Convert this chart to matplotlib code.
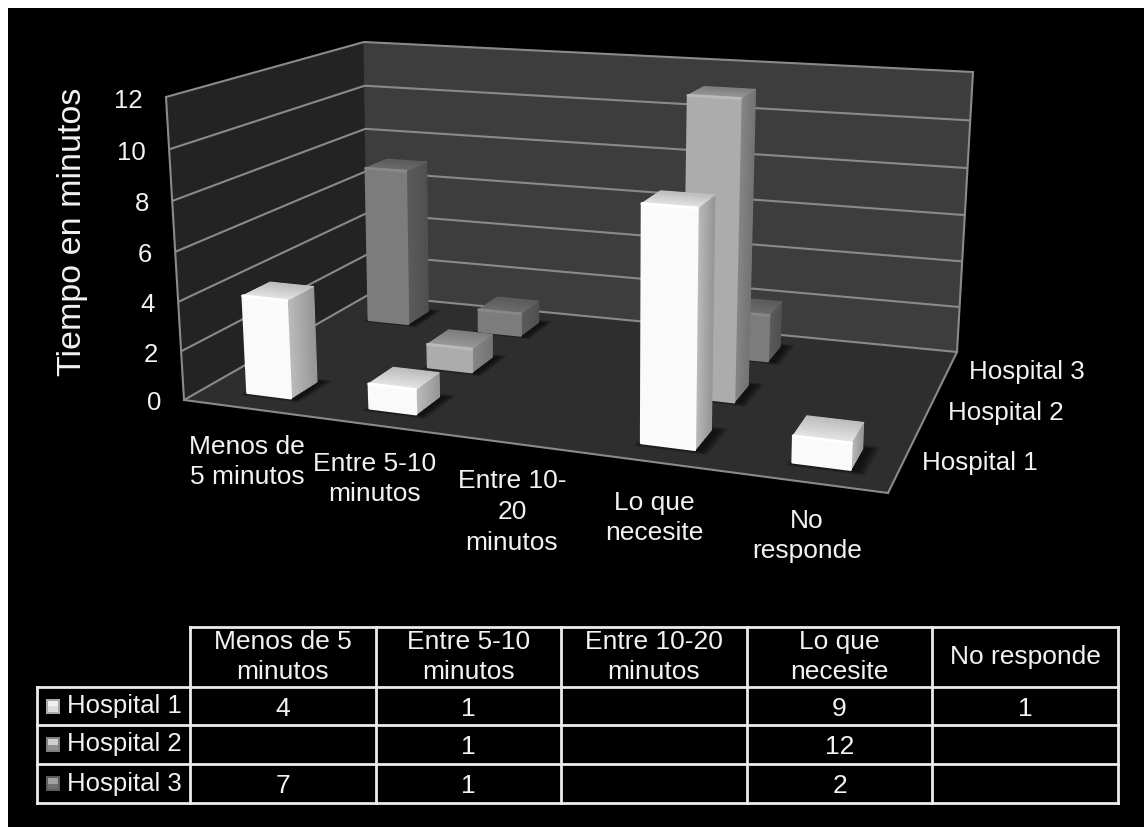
import numpy as np
import matplotlib
matplotlib.use("Agg")
import matplotlib.pyplot as plt
from matplotlib.patches import Polygon, Rectangle

plt.rcParams['font.family'] = ['Liberation Sans', 'DejaVu Sans']

# Chart data
categories = ["Menos de\n5 minutos", "Entre 5-10\nminutos", "Entre 10-\n20\nminutos",
              "Lo que\nnecesite", "No\nresponde"]
table_headers = ["Menos de 5\nminutos", "Entre 5-10\nminutos", "Entre 10-20\nminutos",
                 "Lo que\nnecesite", "No responde"]
series_names = ["Hospital 1", "Hospital 2", "Hospital 3"]
hospital_1 = [4, 1, None, 9, 1]
hospital_2 = [None, 1, None, 12, None]
hospital_3 = [7, 1, None, 2, None]
y_ticks = [0, 2, 4, 6, 8, 10, 12]
y_title = "Tiempo en minutos"

series_values = [hospital_1, hospital_2, hospital_3]
n_cat, n_ser, y_max = len(categories), len(series_names), y_ticks[-1]

# Box corners on the canvas: floor plane and the plane at the top of the value axis
floor_corners = [(184, 400), (888, 493), (957, 352), (368, 295)]
top_corners = [(166, 97), (901, 147), (973, 72), (364, 42)]
DEPTH_FALLOFF = 0.045


def homography(src, dst):
    rows, rhs = [], []
    for (u, v), (x, y) in zip(src, dst):
        rows.append([u, v, 1, 0, 0, 0, -u * x, -v * x]); rhs.append(x)
        rows.append([0, 0, 0, u, v, 1, -u * y, -v * y]); rhs.append(y)
    h = np.linalg.solve(np.array(rows, float), np.array(rhs, float))
    return np.append(h, 1).reshape(3, 3)


unit_square = [(0, 0), (n_cat, 0), (n_cat, n_ser), (0, n_ser)]
H_floor = homography(unit_square, floor_corners)
H_top = homography(unit_square, top_corners)


def apply(h, u, v):
    p = h @ np.array([u, v, 1.0])
    return p[:2] / p[2]


def project(u, v, w=0.0):
    t = w / y_max
    g = t / (1 + DEPTH_FALLOFF * (1 - t))
    a, b = apply(H_floor, u, v), apply(H_top, u, v)
    return tuple(a + (b - a) * g)


def shade(c0, c1, t):
    return tuple((a + (b - a) * t) / 255 for a, b in zip(c0, c1))


fig = plt.figure(figsize=(11.44, 8.27), dpi=100, facecolor="white")
ax = fig.add_axes([0, 0, 1, 1])
ax.set_xlim(0, 1144)
ax.set_ylim(827, 0)
ax.axis("off")
ax.add_patch(Rectangle((8, 8), 1136, 819, fc="black", ec="none", zorder=0))


def poly(pts, color, z=2, lw=0.8):
    ax.add_patch(Polygon(pts, closed=True, fc=color, ec=color, lw=lw, joinstyle="round", zorder=z))


# Walls and floor
poly([project(0, 0), project(0, n_ser), project(0, n_ser, y_max), project(0, 0, y_max)], "#232323", 1)
poly([project(0, n_ser), project(n_cat, n_ser), project(n_cat, n_ser, y_max), project(0, n_ser, y_max)], "#3d3d3d", 1)
poly([project(0, 0), project(n_cat, 0), project(n_cat, n_ser), project(0, n_ser)], "#2e2e2e", 1)

grid_color = "#8a8a8a"
for t in y_ticks:
    line = [project(0, 0, t), project(0, n_ser, t), project(n_cat, n_ser, t)]
    ax.plot(*zip(*line), color=grid_color, lw=1.5, zorder=1.5, solid_capstyle="butt")
for a, b in [((0, 0), (0, 0, y_max)), ((n_cat, n_ser), (n_cat, n_ser, y_max)),
             ((0, 0), (n_cat, 0)), ((n_cat, 0), (n_cat, n_ser))]:
    ax.plot(*zip(project(*a), project(*b)), color=grid_color, lw=1.5, zorder=1.5)

# Colours per series: front, side (near/far), top (near/far)
palette = [
    dict(front=(250, 250, 250), edge=(255, 255, 255), side=((190, 190, 190), (150, 150, 150)),
         top=((232, 232, 232), (190, 190, 190))),
    dict(front=(172, 172, 172), edge=(186, 186, 186), side=((136, 136, 136), (116, 116, 116)),
         top=((156, 156, 156), (126, 126, 126))),
    dict(front=(124, 124, 124), edge=(136, 136, 136), side=((92, 92, 92), (80, 80, 80)),
         top=((110, 110, 110), (92, 92, 92))),
]
BAR_U = (0.355, 0.72)
BAR_V = (0.30, 0.70)
STRIPES = 12


def draw_bar(i, s, value):
    u0, u1 = i + BAR_U[0], i + BAR_U[1]
    v0, v1 = s + BAR_V[0], s + BAR_V[1]
    col = palette[s]
    order = 3 + (n_ser - s) * 0.5

    # Soft contact shadow on the floor
    for k in range(6, 0, -1):
        d = 0.011 * k
        shift = 0.035
        pts = [project(u0 - d + shift, v0 - d), project(u1 + d + shift, v0 - d),
               project(u1 + d + shift, v1 + d), project(u0 - d + shift, v1 + d)]
        ax.add_patch(Polygon(pts, fc="black", ec="none", alpha=0.13, joinstyle="round", zorder=order - 0.2))

    for k in range(STRIPES):
        a, b = k / STRIPES, (k + 1) / STRIPES
        va, vb = v0 + (v1 - v0) * a, v0 + (v1 - v0) * b
        t = (k + 0.5) / STRIPES
        poly([project(u1, va), project(u1, vb), project(u1, vb, value), project(u1, va, value)],
             shade(*col["side"], t), order)
        poly([project(u0, va, value), project(u1, va, value), project(u1, vb, value), project(u0, vb, value)],
             shade(*col["top"], t), order)
    poly([project(u0, v0), project(u1, v0), project(u1, v0, value), project(u0, v0, value)],
         shade(col["front"], col["front"], 0), order, lw=1.6)
    ax.plot(*zip(project(u0, v0, value), project(u1, v0, value)),
            color=shade(col["edge"], col["edge"], 0), lw=2, zorder=order, solid_capstyle="round")


for s in reversed(range(n_ser)):
    for i in range(n_cat):
        if series_values[s][i] is not None:
            draw_bar(i, s, series_values[s][i])

TEXT = "#f2f2f2"
for t in y_ticks:
    x, y = project(0, 0, t)
    ax.text(x - 23, y + 1, str(t), color=TEXT, fontsize=18.5, ha="right", va="center_baseline", zorder=6)

ax.text(73, 232, y_title, color=TEXT, fontsize=24.5, rotation=90, ha="center", va="center", zorder=6)

# Category labels on the front edge of the floor
for label, x, y in zip(categories, [247, 375, 512, 654, 807], [462, 479, 512, 518, 536]):
    ax.text(x, y, label, color=TEXT, fontsize=19, ha="center", va="center", linespacing=1.35, zorder=6)
# Series labels along the right edge of the floor
for label, x, y in zip(series_names, [980, 1006, 1027], [463, 413, 372]):
    ax.text(x, y, label, color=TEXT, fontsize=18.7, ha="center", va="center", zorder=6)

# Data table
col_x = [190, 376, 561, 747, 932, 1118]
row_y = [627, 687, 725, 764, 803]
legend_left = 37
line = dict(color="#ececec", lw=2.0, zorder=6, solid_capstyle="projecting")
ax.plot([col_x[0], col_x[-1]], [row_y[0]] * 2, **line)
for y in row_y[1:]:
    ax.plot([legend_left, col_x[-1]], [y, y], **line)
for x in col_x:
    ax.plot([x, x], [row_y[0], row_y[-1]], **line)
ax.plot([legend_left, legend_left], [row_y[1], row_y[-1]], **line)

for j, header in enumerate(table_headers):
    ax.text((col_x[j] + col_x[j + 1]) / 2, (row_y[0] + row_y[1]) / 2, header, color=TEXT, fontsize=19,
            ha="center", va="center", linespacing=1.3, zorder=6)

key_border = ["#a8a8a8", "#808080", "#5c5c5c"]
key_upper = ["#f0f0f0", "#d0d0d0", "#a0a0a0"]
key_lower = ["#dcdcdc", "#909090", "#707070"]
for s, name in enumerate(series_names):
    cy = (row_y[s + 1] + row_y[s + 2]) / 2
    ax.text(67, cy, name, color=TEXT, fontsize=18.5, ha="left", va="center", zorder=6)
    ax.add_patch(Rectangle((46, cy - 7.5), 14, 15, fc=key_border[s], ec="none", zorder=6))
    ax.add_patch(Rectangle((48, cy - 5.5), 10, 5.5, fc=key_upper[s], ec="none", zorder=6.1))
    ax.add_patch(Rectangle((48, cy), 10, 5.5, fc=key_lower[s], ec="none", zorder=6.1))
    for j, v in enumerate(series_values[s]):
        if v is not None:
            ax.text((col_x[j] + col_x[j + 1]) / 2, cy, str(v), color=TEXT, fontsize=19,
                    ha="center", va="center_baseline", zorder=6)

fig.savefig("out.png", dpi=100, facecolor="white")
